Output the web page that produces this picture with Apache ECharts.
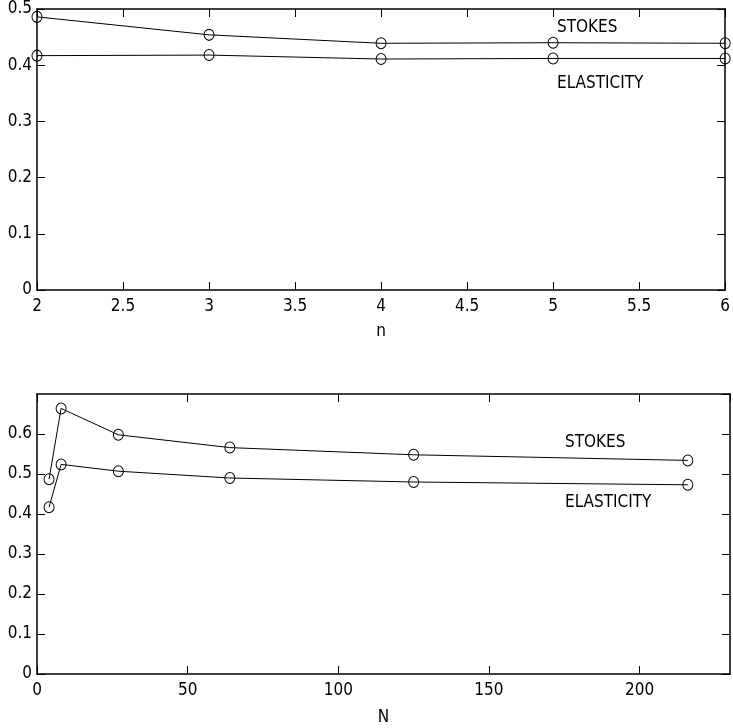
<!DOCTYPE html>
<html>
<head>
<meta charset="utf-8">
<script src="https://cdn.jsdelivr.net/npm/echarts@6/dist/echarts.min.js"></script>
<style>
  html, body { margin: 0; padding: 0; background: #fff; }
  #chart { width: 733px; height: 728px; }
</style>
</head>
<body>
<div id="chart"></div>
<script>
// top panel: against n
const nVals = [2, 3, 4, 5, 6];
const stokesN = [0.486, 0.454, 0.439, 0.440, 0.439];
const elastN = [0.417, 0.418, 0.411, 0.412, 0.412];

// bottom panel: against N
const NVals = [4, 8, 27, 64, 125, 216];
const stokesBig = [0.487, 0.664, 0.598, 0.566, 0.548, 0.534];
const elastBig = [0.417, 0.524, 0.507, 0.490, 0.480, 0.473];

const font = "'Liberation Sans Narrow', 'DejaVu Sans Condensed', 'Liberation Sans', sans-serif";
const fs = 17;

let myChart = echarts.init(document.getElementById('chart'));

function pairs(xs, ys) {
    return xs.map((x, i) => [x, ys[i]]);
}

function mainX(grid, min, max, interval, name, gap) {
    return {
        type: 'value', gridIndex: grid, min: min, max: max, interval: interval,
        position: 'bottom',
        name: name, nameLocation: 'middle', nameGap: gap,
        nameTextStyle: { color: '#000', fontFamily: font, fontSize: fs },
        axisLine: { show: true, onZero: false, lineStyle: { color: '#000', width: 1.5 } },
        axisTick: { show: true, inside: true, length: 8, lineStyle: { color: '#000' } },
        axisLabel: { color: '#000', fontFamily: font, fontSize: fs, margin: 8, showMaxLabel: max % interval === 0 },
        splitLine: { show: false }
    };
}

function sideX(grid, min, max, interval) {
    return {
        type: 'value', gridIndex: grid, min: min, max: max, interval: interval,
        position: 'top',
        axisLine: { show: true, onZero: false, lineStyle: { color: '#000', width: 1.5 } },
        axisTick: { show: true, inside: true, length: 8, lineStyle: { color: '#000' } },
        axisLabel: { show: false },
        splitLine: { show: false }
    };
}

function mainY(grid, max, showMax) {
    return {
        type: 'value', gridIndex: grid, min: 0, max: max, interval: 0.1,
        position: 'left',
        axisLine: { show: true, onZero: false, lineStyle: { color: '#000', width: 1.5 } },
        axisTick: { show: true, inside: true, length: 8, lineStyle: { color: '#000' } },
        axisLabel: { color: '#000', fontFamily: font, fontSize: fs, margin: 5, showMaxLabel: showMax,
            formatter: v => +v.toFixed(1) + '' },
        splitLine: { show: false }
    };
}

function sideY(grid, max) {
    return {
        type: 'value', gridIndex: grid, min: 0, max: max, interval: 0.1,
        position: 'right',
        axisLine: { show: true, onZero: false, lineStyle: { color: '#000', width: 1.5 } },
        axisTick: { show: true, inside: true, length: 8, lineStyle: { color: '#000' } },
        axisLabel: { show: false },
        splitLine: { show: false }
    };
}

function curve(data, xi, yi) {
    return {
        type: 'line', data: data, xAxisIndex: xi, yAxisIndex: yi,
        symbol: 'circle', symbolSize: [10, 11],
        lineStyle: { color: '#000', width: 1 },
        itemStyle: { color: 'rgba(0,0,0,0)', borderColor: '#000', borderWidth: 1 },
        emphasis: { disabled: true },
        animation: false
    };
}

function note(text, x, y) {
    return {
        type: 'text', left: x, top: y,
        style: { text: text, fill: '#000', font: fs + 'px ' + font }
    };
}

let option = {
    backgroundColor: '#fff',
    animation: false,
    grid: [
        { left: 37, top: 9, right: 2, height: 281 },
        { left: 37, top: 394, right: 3, height: 280 }
    ],
    xAxis: [
        mainX(0, 2, 6, 0.5, 'n', 33),
        sideX(0, 2, 6, 0.5),
        mainX(1, 0, 230, 50, 'N', 35),
        sideX(1, 0, 230, 50)
    ],
    yAxis: [
        mainY(0, 0.5, true),
        sideY(0, 0.5),
        mainY(1, 0.7, false),
        sideY(1, 0.7)
    ],
    series: [
        curve(pairs(nVals, stokesN), 0, 0),
        curve(pairs(nVals, elastN), 0, 0),
        curve(pairs(NVals, stokesBig), 2, 2),
        curve(pairs(NVals, elastBig), 2, 2)
    ],
    graphic: [
        note('STOKES', 557, 19),
        note('ELASTICITY', 557, 75),
        note('STOKES', 565, 434),
        note('ELASTICITY', 565, 494)
    ]
};

option && myChart.setOption(option);
</script>
</body>
</html>
